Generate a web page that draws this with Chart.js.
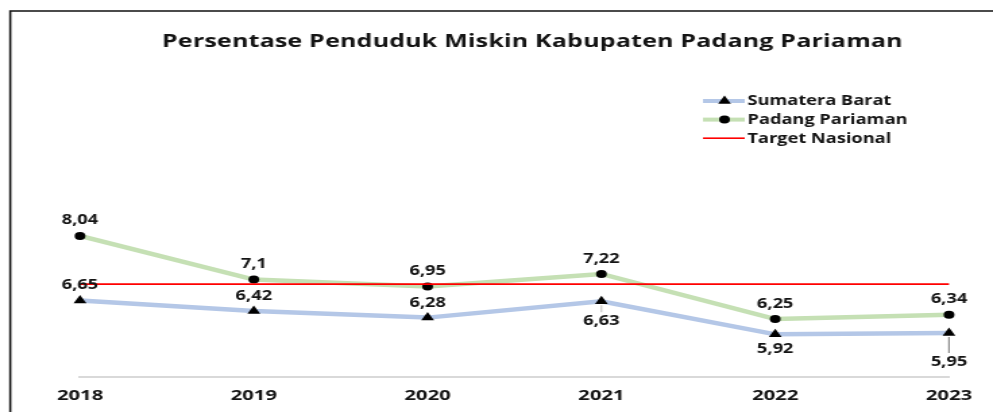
<!DOCTYPE html>
<html><head><meta charset="utf-8">
<script src="https://cdn.jsdelivr.net/npm/chart.js@4.4.1/dist/chart.umd.min.js"></script>
<style>
html,body{margin:0;padding:0;background:#fff;overflow:hidden;}
#wrap{width:736px;height:412px;transform:scaleX(1.34918);transform-origin:0 0;}
canvas{display:block;}
</style></head><body>
<div id="wrap"><canvas id="c" width="736" height="412"></canvas></div>
<script>
const years = ['2018', '2019', '2020', '2021', '2022', '2023'];
const sumateraBarat = [6.65, 6.42, 6.28, 6.63, 5.92, 5.95];
const padangPariaman = [8.04, 7.10, 6.95, 7.22, 6.25, 6.34];
const targetNasional = [7, 7, 7, 7, 7, 7];
const seriesNames = ['Sumatera Barat', 'Padang Pariaman', 'Target Nasional'];
const chartTitle = 'Persentase Penduduk Miskin Kabupaten Padang Pariaman';

const FONT = '"Open Sans", Lato, sans-serif';
const TEXT = '#141414';

function drawMarker(ctx, style, x, y, r) {
  ctx.beginPath();
  if (style === 'circle') {
    ctx.arc(x, y, r, 0, Math.PI * 2);
  } else if (style === 'triangle') {
    ctx.moveTo(x, y - r);
    ctx.lineTo(x + r * 0.866, y + r * 0.5);
    ctx.lineTo(x - r * 0.866, y + r * 0.5);
    ctx.closePath();
  }
  ctx.fill();
}

function fitText(ctx, text, x, y, targetWidth) {
  const w = ctx.measureText(text).width;
  if ('letterSpacing' in ctx && text.length > 1) {
    ctx.letterSpacing = ((targetWidth - w) / text.length).toFixed(2) + 'px';
  }
  ctx.fillText(text, x, y);
  if ('letterSpacing' in ctx) ctx.letterSpacing = '0px';
}

const decor = {
  id: 'decor',
  beforeDraw(chart) {
    const ctx = chart.ctx;
    ctx.save();
    ctx.fillStyle = '#fff';
    ctx.fillRect(0, 0, chart.width, chart.height);
    // frame
    ctx.strokeStyle = '#111';
    ctx.lineWidth = 1.6;
    ctx.beginPath();
    ctx.moveTo(7.6, chart.height);
    ctx.lineTo(7.6, 11);
    ctx.lineTo(chart.width, 11);
    ctx.stroke();
    // title
    ctx.fillStyle = TEXT;
    ctx.font = 'bold 18.5px ' + FONT;
    ctx.textAlign = 'left';
    ctx.textBaseline = 'middle';
    fitText(ctx, chartTitle, 120.1, 42, 549);
    // legend
    const ds = chart.data.datasets;
    ctx.font = 'bold 13.5px ' + FONT;
    ctx.textAlign = 'left';
    [0, 1, 2].forEach((k) => {
      const d = ds[k];
      const y = 101 + k * 18.6;
      ctx.strokeStyle = d.borderColor;
      ctx.lineWidth = k === 2 ? 1.6 : 4;
      ctx.beginPath();
      ctx.moveTo(521, y);
      ctx.lineTo(552, y);
      ctx.stroke();
      if (d.pointRadius > 0) {
        ctx.fillStyle = '#000';
        drawMarker(ctx, d.pointStyle, 537, y, d.pointRadius);
      }
      ctx.fillStyle = TEXT;
      ctx.fillText(d.label, 554, y + 0.5);
    });
    ctx.restore();
  },
  afterDatasetsDraw(chart, args, opts) {
    const ctx = chart.ctx;
    ctx.save();
    ctx.font = 'bold 13.5px ' + FONT;
    ctx.fillStyle = TEXT;
    ctx.textAlign = 'center';
    ctx.textBaseline = 'middle';
    opts.series.forEach((s) => {
      const meta = chart.getDatasetMeta(s.index);
      const data = chart.data.datasets[s.index].data;
      meta.data.forEach((pt, i) => {
        const txt = String(data[i]).replace('.', ',');
        const y = pt.y + s.offsets[i];
        if (s.leaders && s.leaders[i]) {
          ctx.strokeStyle = s.leaders[i];
          ctx.lineWidth = 1.2;
          ctx.beginPath();
          ctx.moveTo(pt.x, pt.y + 4);
          ctx.lineTo(pt.x, y - 9);
          ctx.stroke();
        }
        ctx.fillText(txt, pt.x, y);
      });
    });
    ctx.restore();
  }
};

new Chart(document.getElementById('c'), {
  type: 'line',
  data: {
    labels: years,
    datasets: [
      {
        label: seriesNames[0], data: sumateraBarat,
        borderColor: '#b4c7e7', borderWidth: 4.5,
        pointStyle: 'triangle', pointRadius: 5.5, pointBackgroundColor: '#000', pointBorderWidth: 0,
        tension: 0, clip: false, order: 2
      },
      {
        label: seriesNames[1], data: padangPariaman,
        borderColor: '#c5e0b4', borderWidth: 4.5,
        pointStyle: 'circle', pointRadius: 4, pointBackgroundColor: '#000', pointBorderWidth: 0,
        tension: 0, clip: false, order: 1
      },
      {
        label: seriesNames[2], data: targetNasional,
        borderColor: '#ff0000', borderWidth: 1.8,
        pointRadius: 0, tension: 0, clip: false, order: 0
      }
    ]
  },
  options: {
    responsive: false,
    animation: false,
    events: [],
    layout: { padding: { left: 59.3, right: 32.6, top: 145, bottom: -2 } },
    plugins: {
      legend: { display: false },
      title: { display: false },
      tooltip: { enabled: false },
      decor: {
        series: [
          { index: 0, offsets: [-15, -15, -14, 20, 15, 29], leaders: [null, null, null, '#c8c8c8', null, '#8c8c8c'] },
          { index: 1, offsets: [-16, -15, -15, -15, -15, -16] }
        ]
      }
    },
    scales: {
      x: {
        offset: false,
        grid: { display: false, drawTicks: false },
        border: { display: true, color: '#d9d9d9', width: 2 },
        ticks: { padding: 11, color: TEXT, autoSkip: false, maxRotation: 0,
                 font: { family: FONT, size: 15, weight: 'bold', lineHeight: 1 } }
      },
      y: { display: false, min: 5, max: 10 }
    }
  },
  plugins: [decor]
});
</script>
</body></html>
